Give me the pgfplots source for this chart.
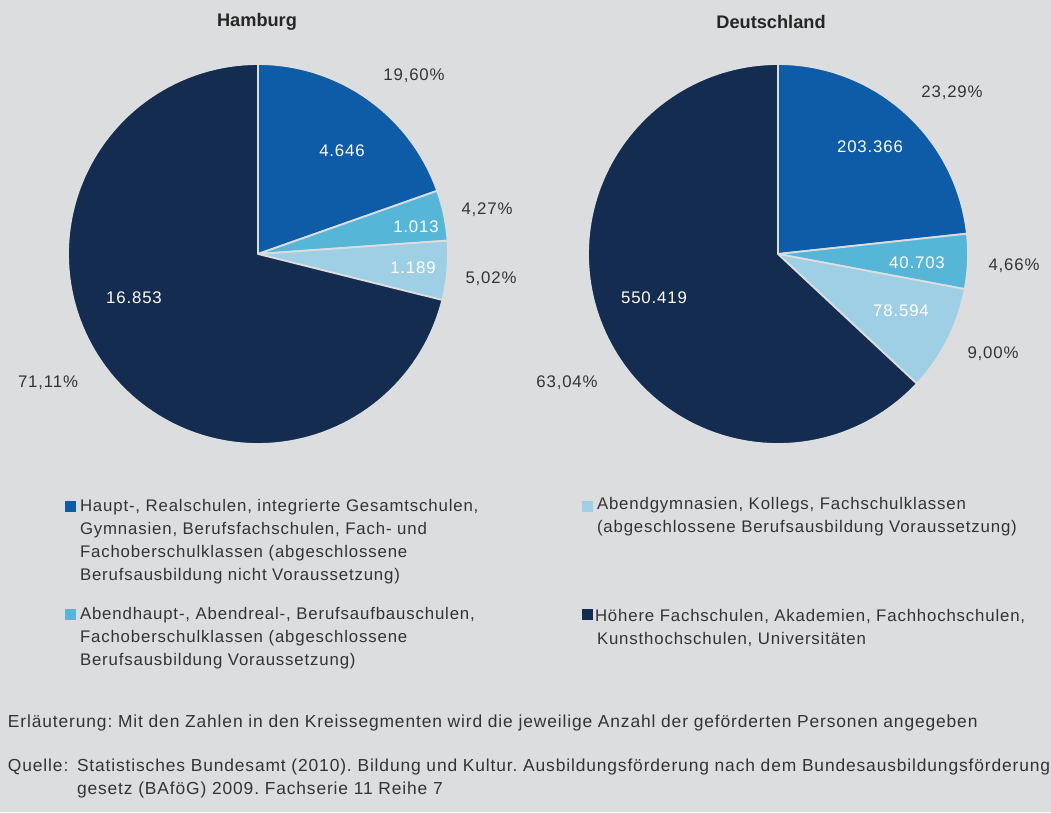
\documentclass[border=0pt]{standalone}
\usepackage{pgfplots}
\pgfplotsset{compat=1.18}
\usepackage{fontspec}
\setmainfont{Liberation Sans}[LetterSpace=5]
\newfontfamily\titlefont{Liberation Sans}
\definecolor{bgc}{RGB}{220,221,223}
\definecolor{navy}{RGB}{19,44,80}
\definecolor{cblue}{RGB}{14,92,167}
\definecolor{ccyan}{RGB}{86,182,215}
\definecolor{clight}{RGB}{159,207,229}
\definecolor{txt}{RGB}{51,51,51}
% Data (Anzahl der geförderten Personen)
% Hamburg
\def\hA{4646}\def\hB{1013}\def\hC{1189}\def\hD{16853}
% Deutschland
\def\dA{203366}\def\dB{40703}\def\dC{78594}\def\dD{550419}
\edef\hT{\fpeval{\hA+\hB+\hC+\hD}}
\edef\hI{\fpeval{90-360*\hA/\hT}}
\edef\hII{\fpeval{\hI-360*\hB/\hT}}
\edef\hIII{\fpeval{\hII-360*\hC/\hT}}
\edef\dT{\fpeval{\dA+\dB+\dC+\dD}}
\edef\dI{\fpeval{90-360*\dA/\dT}}
\edef\dII{\fpeval{\dI-360*\dB/\dT}}
\edef\dIII{\fpeval{\dII-360*\dC/\dT}}
\newcommand\slice[3]{\addplot[fill=#3, draw=bgc, line width=1.8pt, line join=round, domain=#1:#2, samples=120] ({cos(x)},{sin(x)}) -- (axis cs:0,0) -- cycle;}
\pgfplotsset{pie/.style={width=380pt, height=380pt, scale only axis, hide axis, xmin=-1, xmax=1, ymin=-1, ymax=1, anchor=center, clip=false}}
\begin{document}
\frenchspacing
\begin{tikzpicture}[every node/.style={inner sep=0pt, outer sep=0pt}]
\fill[bgc] (0pt,0pt) rectangle (1051pt,-812pt);
\begin{axis}[pie, at={(258pt,-254pt)}]
\slice{\hI}{90}{cblue}
\slice{\hII}{\hI}{ccyan}
\slice{\hIII}{\hII}{clight}
\slice{-270}{\hIII}{navy}
\end{axis}
\begin{axis}[pie, at={(778pt,-254pt)}]
\slice{\dI}{90}{cblue}
\slice{\dII}{\dI}{ccyan}
\slice{\dIII}{\dII}{clight}
\slice{-270}{\dIII}{navy}
\end{axis}
\begin{scope}[font=\fontsize{16.8}{20}\selectfont]
% titles
\node[font=\titlefont\bfseries\fontsize{18.2}{20}\selectfont, text=black!85] at (257pt,-22pt) {Hamburg};
\node[font=\titlefont\bfseries\fontsize{18.2}{20}\selectfont, text=black!85] at (771pt,-22pt) {Deutschland};
% Hamburg labels
\node[text=txt] at (414pt,-76pt) {19,60\%};
\node[text=white] at (342pt,-151pt) {4.646};
\node[text=txt] at (487pt,-210pt) {4,27\%};
\node[text=white] at (416pt,-227pt) {1.013};
\node[text=white] at (413pt,-268pt) {1.189};
\node[text=txt] at (491pt,-279pt) {5,02\%};
\node[text=white] at (134pt,-298pt) {16.853};
\node[text=txt] at (48pt,-383pt) {71,11\%};
% Deutschland labels
\node[text=txt] at (952pt,-93pt) {23,29\%};
\node[text=white] at (870pt,-147pt) {203.366};
\node[text=white] at (917pt,-263pt) {40.703};
\node[text=txt] at (1014pt,-266pt) {4,66\%};
\node[text=white] at (901pt,-311pt) {78.594};
\node[text=txt] at (993pt,-354pt) {9,00\%};
\node[text=white] at (654pt,-298pt) {550.419};
\node[text=txt] at (567pt,-383pt) {63,04\%};
% legend
\fill[cblue] (65pt,-501pt) rectangle (76pt,-512pt);
\node[anchor=base west, text=txt] at (80pt,-511pt) {Haupt-, Realschulen, integrierte Gesamtschulen,};
\node[anchor=base west, text=txt] at (80pt,-534pt) {Gymnasien, Berufsfachschulen, Fach- und};
\node[anchor=base west, text=txt] at (80pt,-557pt) {Fachoberschulklassen (abgeschlossene};
\node[anchor=base west, text=txt] at (80pt,-580pt) {Berufsausbildung nicht Voraussetzung)};
\fill[ccyan] (65pt,-609pt) rectangle (76pt,-620pt);
\node[anchor=base west, text=txt] at (80pt,-619pt) {Abendhaupt-, Abendreal-, Berufsaufbauschulen,};
\node[anchor=base west, text=txt] at (80pt,-642pt) {Fachoberschulklassen (abgeschlossene};
\node[anchor=base west, text=txt] at (80pt,-665pt) {Berufsausbildung Voraussetzung)};
\fill[clight] (582pt,-501pt) rectangle (593pt,-512pt);
\node[anchor=base west, text=txt] at (597pt,-509pt) {Abendgymnasien, Kollegs, Fachschulklassen};
\node[anchor=base west, text=txt] at (597pt,-532pt) {(abgeschlossene Berufsausbildung Voraussetzung)};
\fill[navy] (582pt,-609pt) rectangle (593pt,-620pt);
\node[anchor=base west, text=txt] at (595pt,-621pt) {Höhere Fachschulen, Akademien, Fachhochschulen,};
\node[anchor=base west, text=txt] at (597pt,-644pt) {Kunsthochschulen, Universitäten};
% footnotes
\begin{scope}[font=\fontsize{17.4}{20}\selectfont]
\node[anchor=base west, text=txt] at (8pt,-727pt) {Erläuterung: Mit den Zahlen in den Kreissegmenten wird die jeweilige Anzahl der geförderten Personen angegeben};
\node[anchor=base west, text=txt] at (8pt,-771pt) {Quelle:};
\node[anchor=base west, text=txt] at (77pt,-771pt) {Statistisches Bundesamt (2010). Bildung und Kultur. Ausbildungsförderung nach dem Bundesausbildungsförderung};
\node[anchor=base west, text=txt] at (77pt,-794pt) {gesetz (BAföG) 2009. Fachserie 11 Reihe 7};
\end{scope}
\end{scope}
\end{tikzpicture}
\end{document}
